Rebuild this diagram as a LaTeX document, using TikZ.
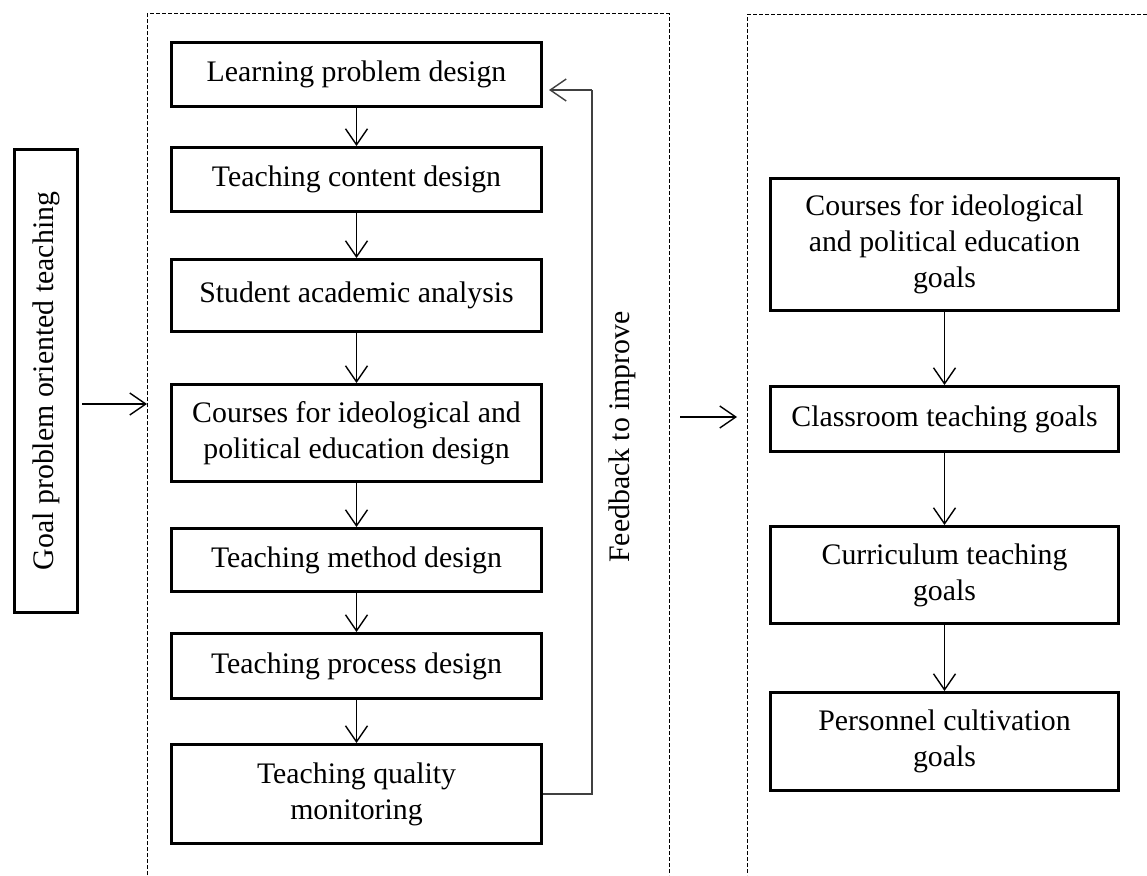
\documentclass[tikz,border=0pt]{standalone}
\usepackage{fontspec}
\setmainfont{Liberation Serif}
\usetikzlibrary{arrows.meta,positioning}
\begin{document}
\begin{tikzpicture}[x=1pt,y=-1pt,
  txt/.style={font=\fontsize{29.8}{36}\selectfont},
  box/.style={draw,line width=3pt,inner sep=2pt,align=center,txt},
  arr/.style={line width=1.4pt,-{Straight Barb[length=16pt,width=22pt,line width=1.4pt]}},
  dashbox/.style={line width=1pt,dash pattern=on 4pt off 2pt}]
\useasboundingbox (0,0) rectangle (1147,875);
% dashed frames
\draw[dashbox] (147,875) -- (147,14) -- (669,14) -- (669,875);
\draw[dashbox] (1147,15) -- (747,15) -- (747,875);
% left goal box
\node[box,minimum width=63pt,minimum height=463pt] (goal) at (46,381) {};
\node[rotate=90,txt] (goaltxt) at (goal.center) {Goal problem oriented teaching};
% middle column
\begin{scope}[every node/.append style={minimum width=370pt}]
\node[box,minimum height=64pt] (b1) at (356.5,74.5) {Learning problem design};
\node[box,minimum height=64pt] (b2) at (356.5,179.5) {Teaching content design};
\node[box,minimum height=72pt] (b3) at (356.5,295.5) {Student academic analysis};
\node[box,minimum height=97pt] (b4) at (356.5,433) {Courses for ideological and\\political education design};
\node[box,minimum height=63pt] (b5) at (356.5,560) {Teaching method design};
\node[box,minimum height=65pt] (b6) at (356.5,666) {Teaching process design};
\node[box,minimum height=99pt] (b7) at (356.5,794) {Teaching quality\\monitoring};
\end{scope}
% right column
\begin{scope}[every node/.append style={minimum width=348pt}]
\node[box,minimum height=132pt] (r1) at (944.5,244.5) {Courses for ideological\\and political education\\goals};
\node[box,minimum height=65pt] (r2) at (944.5,419) {Classroom teaching goals};
\node[box,minimum height=97pt] (r3) at (944.5,575) {Curriculum teaching\\goals};
\node[box,minimum height=98pt] (r4) at (944.5,741.5) {Personnel cultivation\\goals};
\end{scope}
% vertical arrows
\foreach \a/\b in {b1/b2,b2/b3,b3/b4,b4/b5,b5/b6,b6/b7,r1/r2,r2/r3,r3/r4}
  \draw[arr] (\a.south) -- (\b.north);
% feedback loop
\coordinate (fbtop) at (592,90);
\draw[line width=1.4pt,black!75] (b7.east) -| (fbtop);
\draw[arr,black!75] (fbtop) -- ([xshift=6pt]b1.east |- fbtop);
\node[rotate=90,txt] (fbtxt) at (622,437) {Feedback to improve};
% horizontal arrows
\coordinate (lbin) at (147,404);
\draw[arr] ([xshift=3pt]goal.east |- lbin) -- (lbin);
\coordinate (m1) at (680,417);
\coordinate (m2) at (737,417);
\draw[arr] (m1) -- (m2);
\end{tikzpicture}
\end{document}
